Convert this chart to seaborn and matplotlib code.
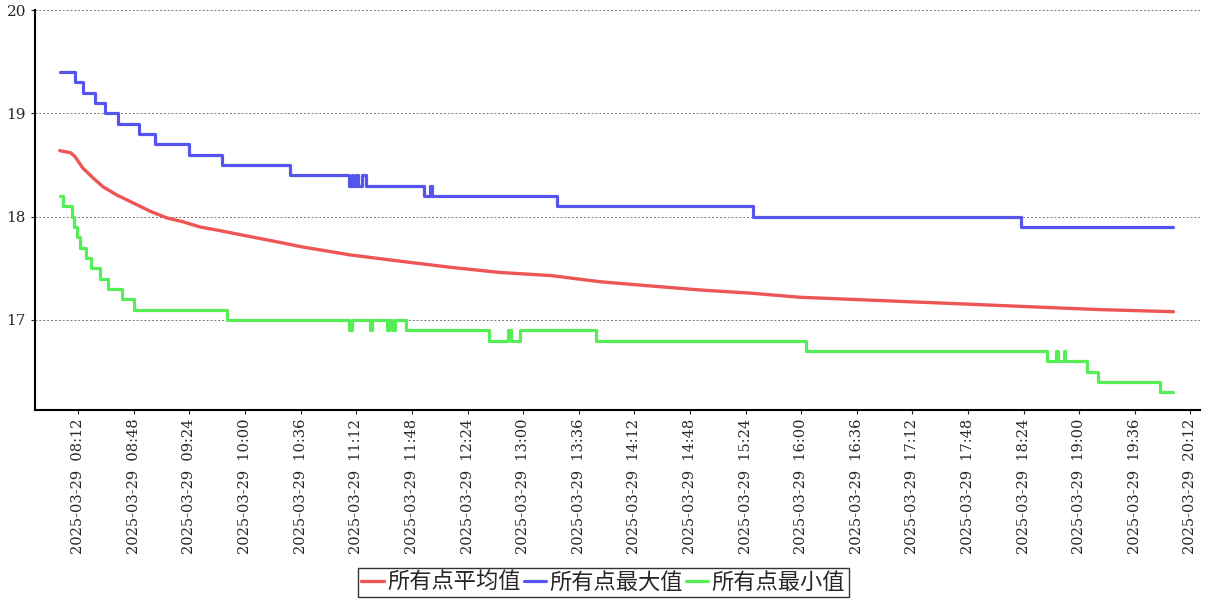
import matplotlib
import matplotlib.pyplot as plt
import matplotlib.dates as mdates
import numpy as np
import pandas as pd
import seaborn as sns

matplotlib.use("Agg")

DAY = "2025-03-29 "

# 所有点平均值 (average)
avg_times = ["08:00", "08:07", "08:10", "08:15", "08:22", "08:28", "08:37", "08:48",
             "08:59", "09:09", "09:20", "09:31", "09:42", "09:59", "10:23", "10:36",
             "11:08", "11:40", "12:13", "12:45", "13:18", "13:50", "14:22", "14:55",
             "15:27", "15:59", "16:32", "17:04", "17:37", "18:09", "18:41", "19:14",
             "20:01"]
avg_values = [18.64, 18.62, 18.58, 18.47, 18.37, 18.29, 18.21, 18.13,
              18.05, 17.99, 17.95, 17.90, 17.87, 17.82, 17.75, 17.71,
              17.63, 17.57, 17.51, 17.46, 17.43, 17.37, 17.33, 17.29,
              17.26, 17.22, 17.20, 17.18, 17.16, 17.14, 17.12, 17.10,
              17.08]

# 所有点最大值 (max), step changes
max_times = ["08:00", "08:10", "08:15", "08:23", "08:29", "08:38", "08:51", "09:02",
             "09:24", "09:45", "10:29", "11:07", "11:09", "11:10", "11:12", "11:13",
             "11:16", "11:18", "11:56", "12:00", "12:01", "13:22", "15:29", "18:22",
             "20:01"]
max_values = [19.4, 19.3, 19.2, 19.1, 19.0, 18.9, 18.8, 18.7,
              18.6, 18.5, 18.4, 18.3, 18.4, 18.3, 18.4, 18.3,
              18.4, 18.3, 18.2, 18.3, 18.2, 18.1, 18.0, 17.9,
              17.9]

# 所有点最小值 (min), step changes
min_times = ["08:00", "08:02", "08:08", "08:09", "08:11", "08:13", "08:17", "08:20",
             "08:26", "08:31", "08:40", "08:48", "09:48", "11:07", "11:09", "11:21",
             "11:22", "11:32", "11:33", "11:35", "11:37", "11:44", "12:38", "12:50",
             "12:52", "12:58", "13:47", "16:03", "18:39", "18:45", "18:46", "18:50",
             "18:51", "19:05", "19:12", "19:52", "20:01"]
min_values = [18.2, 18.1, 18.0, 17.9, 17.8, 17.7, 17.6, 17.5,
              17.4, 17.3, 17.2, 17.1, 17.0, 16.9, 17.0, 16.9,
              17.0, 16.9, 17.0, 16.9, 17.0, 16.9, 16.8, 16.9,
              16.8, 16.9, 16.8, 16.7, 16.6, 16.7, 16.6, 16.7,
              16.6, 16.5, 16.4, 16.3, 16.3]

y_ticks = [17, 18, 19, 20]
series_names = ["所有点平均值", "所有点最大值", "所有点最小值"]
colors = ["#ee5555", "#5555ee", "#55ee55"]


def to_frame(times, values):
    return pd.DataFrame({"time": pd.to_datetime([DAY + t for t in times]),
                         "value": values})


sns.set_style("white")
plt.rcParams["font.family"] = ["DejaVu Serif", "Noto Sans CJK SC"]

fig = plt.figure(figsize=(12.07, 6.0), dpi=100)
ax = fig.add_axes([0.029, 0.317, 0.965, 0.666])

sns.lineplot(data=to_frame(avg_times, avg_values), x="time", y="value", ax=ax,
             color=colors[0], linewidth=2.4, label=series_names[0])
sns.lineplot(data=to_frame(max_times, max_values), x="time", y="value", ax=ax,
             color=colors[1], linewidth=2.3, drawstyle="steps-post", label=series_names[1])
sns.lineplot(data=to_frame(min_times, min_values), x="time", y="value", ax=ax,
             color=colors[2], linewidth=2.3, drawstyle="steps-post", label=series_names[2])

ax.set_ylim(16.13, 20.0)
ax.set_yticks(y_ticks)
ax.set_xlim(pd.Timestamp(DAY + "07:44"), pd.Timestamp(DAY + "20:18"))
ax.set_xticks(pd.date_range(DAY + "08:12", DAY + "20:12", freq="36min"))
ax.xaxis.set_major_formatter(mdates.DateFormatter("%Y-%m-%d  %H:%M"))
ax.tick_params(axis="x", labelrotation=90, labelsize=10.5, length=3, direction="out", bottom=True)
ax.tick_params(axis="y", labelsize=11, length=3, direction="out", left=True)
ax.set_xlabel("")
ax.set_ylabel("")

ax.grid(axis="y", color="#777777", linestyle=(0, (2, 2)), linewidth=0.7)
ax.grid(axis="x", visible=False)
for side in ["top", "right"]:
    ax.spines[side].set_visible(False)
for side in ["left", "bottom"]:
    ax.spines[side].set_color("black")
    ax.spines[side].set_linewidth(1.5)

leg = ax.legend(loc="lower center", bbox_to_anchor=(0.488, -0.468), ncol=3,
                frameon=True, fancybox=False, shadow=False, fontsize=16,
                handlelength=1.0, handletextpad=0.15, columnspacing=0.15,
                borderpad=0.15, borderaxespad=0)
leg.get_frame().set_edgecolor("black")
leg.get_frame().set_linewidth(1.0)

fig.savefig("out.png", dpi=100)
